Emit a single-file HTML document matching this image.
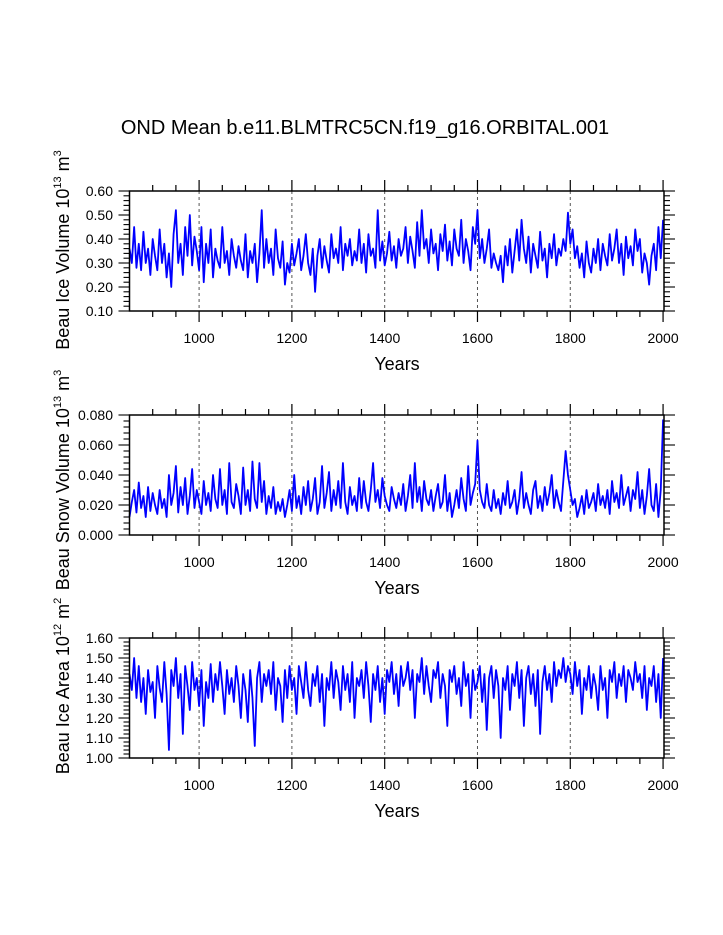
<!DOCTYPE html>
<html><head><meta charset="utf-8"><style>
html,body{margin:0;padding:0;background:#fff;}
svg{display:block;font-family:"Liberation Sans",Arial,sans-serif;}
</style></head><body>
<svg id="chart" width="723" height="935" viewBox="0 0 723 935" xmlns="http://www.w3.org/2000/svg">
<rect width="723" height="935" fill="#fff"/>
<text x="365" y="134" font-size="20" text-anchor="middle">OND Mean b.e11.BLMTRC5CN.f19_g16.ORBITAL.001</text>
</svg>
<script>
const startYear = 850;
const stepYears = 5;
const iceVolume = [
0.36,0.30,0.45,0.28,0.38,0.27,0.43,0.30,0.36,0.25,0.40,0.33,0.27,0.44,0.30,0.38,0.24,0.34,0.20,0.42,
0.52,0.30,0.38,0.25,0.45,0.33,0.50,0.29,0.41,0.35,0.27,0.45,0.22,0.38,0.30,0.44,0.24,0.36,0.31,0.28,
0.45,0.30,0.35,0.25,0.40,0.33,0.28,0.37,0.31,0.27,0.42,0.24,0.35,0.30,0.38,0.22,0.34,0.52,0.28,0.40,
0.30,0.36,0.25,0.44,0.32,0.28,0.39,0.21,0.30,0.26,0.38,0.29,0.34,0.40,0.27,0.33,0.42,0.30,0.25,0.36,
0.18,0.33,0.40,0.28,0.37,0.31,0.26,0.42,0.32,0.36,0.30,0.45,0.27,0.38,0.33,0.40,0.29,0.35,0.31,0.44,
0.30,0.38,0.26,0.42,0.33,0.36,0.28,0.52,0.31,0.39,0.29,0.34,0.43,0.31,0.37,0.28,0.40,0.33,0.36,0.45,
0.30,0.41,0.35,0.28,0.47,0.33,0.52,0.36,0.40,0.30,0.44,0.34,0.38,0.27,0.42,0.35,0.46,0.31,0.39,0.29,
0.44,0.36,0.33,0.48,0.30,0.40,0.35,0.27,0.45,0.38,0.52,0.32,0.40,0.30,0.36,0.44,0.28,0.34,0.30,0.27,
0.33,0.22,0.37,0.29,0.40,0.26,0.35,0.44,0.31,0.48,0.36,0.30,0.41,0.26,0.38,0.33,0.28,0.43,0.31,0.36,
0.24,0.38,0.32,0.42,0.29,0.36,0.33,0.40,0.35,0.51,0.38,0.44,0.32,0.37,0.28,0.34,0.24,0.39,0.30,0.26,
0.36,0.30,0.40,0.27,0.38,0.33,0.29,0.42,0.31,0.36,0.44,0.30,0.38,0.25,0.41,0.32,0.37,0.29,0.44,0.35,
0.40,0.26,0.34,0.30,0.21,0.33,0.38,0.27,0.45,0.32,0.48];
const snowVolume = [
0.012,0.022,0.030,0.015,0.035,0.018,0.026,0.012,0.032,0.016,0.028,0.020,0.014,0.030,0.018,0.024,0.012,0.040,0.020,0.028,
0.046,0.015,0.032,0.020,0.038,0.014,0.026,0.044,0.018,0.030,0.022,0.014,0.036,0.020,0.028,0.016,0.040,0.024,0.018,0.044,
0.020,0.030,0.014,0.048,0.022,0.018,0.034,0.026,0.014,0.045,0.020,0.030,0.016,0.049,0.024,0.018,0.048,0.022,0.036,0.014,
0.026,0.018,0.032,0.014,0.022,0.016,0.024,0.012,0.020,0.030,0.016,0.040,0.018,0.026,0.014,0.032,0.020,0.036,0.016,0.024,
0.038,0.014,0.022,0.046,0.018,0.028,0.042,0.016,0.030,0.020,0.036,0.018,0.048,0.022,0.014,0.032,0.020,0.026,0.016,0.038,
0.018,0.036,0.022,0.016,0.030,0.048,0.022,0.030,0.018,0.038,0.026,0.020,0.016,0.032,0.024,0.018,0.028,0.020,0.034,0.016,
0.026,0.040,0.018,0.048,0.022,0.032,0.016,0.036,0.024,0.020,0.030,0.016,0.026,0.034,0.018,0.022,0.040,0.016,0.028,0.012,
0.020,0.030,0.018,0.038,0.024,0.016,0.046,0.020,0.028,0.034,0.063,0.030,0.022,0.018,0.034,0.020,0.016,0.030,0.018,0.024,
0.014,0.028,0.020,0.036,0.018,0.022,0.030,0.014,0.024,0.042,0.018,0.028,0.020,0.014,0.030,0.036,0.018,0.026,0.016,0.032,
0.020,0.028,0.040,0.018,0.030,0.022,0.016,0.036,0.056,0.040,0.030,0.020,0.024,0.012,0.018,0.026,0.014,0.030,0.018,0.022,
0.028,0.016,0.034,0.020,0.026,0.018,0.030,0.014,0.036,0.022,0.028,0.018,0.040,0.020,0.026,0.032,0.016,0.030,0.024,0.042,
0.018,0.030,0.014,0.026,0.044,0.020,0.016,0.034,0.012,0.030,0.077];
const iceArea = [
1.42,1.34,1.50,1.30,1.46,1.28,1.40,1.22,1.44,1.33,1.38,1.20,1.46,1.35,1.28,1.48,1.32,1.04,1.44,1.36,
1.50,1.30,1.42,1.12,1.46,1.36,1.24,1.48,1.34,1.40,1.26,1.44,1.16,1.38,1.30,1.47,1.28,1.42,1.34,1.48,
1.36,1.22,1.44,1.32,1.40,1.28,1.46,1.36,1.20,1.42,1.34,1.18,1.44,1.30,1.06,1.40,1.48,1.28,1.42,1.36,
1.44,1.32,1.48,1.24,1.40,1.36,1.18,1.44,1.30,1.46,1.34,1.40,1.22,1.46,1.38,1.30,1.48,1.34,1.26,1.42,
1.36,1.46,1.28,1.42,1.16,1.40,1.34,1.48,1.30,1.44,1.38,1.24,1.46,1.34,1.42,1.28,1.48,1.20,1.40,1.36,
1.44,1.30,1.48,1.36,1.18,1.42,1.34,1.46,1.28,1.40,1.22,1.44,1.38,1.48,1.32,1.42,1.26,1.46,1.36,1.40,
1.48,1.34,1.44,1.20,1.42,1.38,1.50,1.32,1.46,1.36,1.28,1.44,1.40,1.48,1.30,1.42,1.36,1.16,1.44,1.38,
1.46,1.32,1.40,1.26,1.48,1.36,1.42,1.20,1.44,1.34,1.38,1.46,1.28,1.42,1.14,1.40,1.46,1.30,1.44,1.36,
1.10,1.40,1.34,1.46,1.24,1.42,1.36,1.48,1.30,1.44,1.16,1.40,1.46,1.32,1.42,1.26,1.44,1.12,1.38,1.46,
1.34,1.42,1.28,1.48,1.36,1.44,1.40,1.50,1.38,1.46,1.42,1.32,1.48,1.36,1.44,1.22,1.40,1.34,1.46,1.30,
1.42,1.36,1.24,1.46,1.34,1.40,1.20,1.44,1.38,1.48,1.30,1.42,1.36,1.46,1.28,1.44,1.40,1.34,1.48,1.38,
1.42,1.30,1.46,1.24,1.40,1.36,1.46,1.28,1.42,1.20,1.50];
const xTickLabels = [1000,1200,1400,1600,1800,2000];
const iceVolTicks = ["0.10","0.20","0.30","0.40","0.50","0.60"];
const snowTicks = ["0.000","0.020","0.040","0.060","0.080"];
const areaTicks = ["1.00","1.10","1.20","1.30","1.40","1.50","1.60"];

const NS = "http://www.w3.org/2000/svg";
const svg = document.getElementById('chart');
function mk(tag, attrs, parent){const e=document.createElementNS(NS,tag);for(const k in attrs)e.setAttribute(k,attrs[k]);(parent||svg).appendChild(e);return e;}
const X0 = 129.5, X1 = 664, YR0 = 850, YR1 = 2002;
function xs(yr){return X0 + (yr-YR0)/(YR1-YR0)*(X1-X0);}

function panel(key, top, bottom, ymin, ymax, minorStep, ticks, values, titleMain, exp, unitExp, titleCy){
  const g = mk('g',{});
  
  
  const ys = v => bottom - (v-ymin)/(ymax-ymin)*(bottom-top);
  for (const yr of [1000,1200,1400,1600,1800]) {
    const l = mk('line',{x1:xs(yr),x2:xs(yr),y1:top,y2:bottom,stroke:'#555','stroke-width':1,'stroke-dasharray':'3,3'},g);
    
    
  }
  let d='';
  values.forEach((v,i)=>{d+=(i?'L':'M')+xs(startYear+i*stepYears).toFixed(2)+','+ys(v).toFixed(2);});
  const p = mk('path',{d:d,fill:'none',stroke:'#0000ff','stroke-width':1.8,'stroke-linejoin':'round'},g);
  
  
  const fr = mk('rect',{x:X0,y:top,width:X1-X0,height:bottom-top,fill:'none',stroke:'#000','stroke-width':1.5},g);
  
  
  for (let yr=900; yr<=2000; yr+=50){
    const major = yr%200===0;
    const L = major?11:6;
    mk('line',{x1:xs(yr),x2:xs(yr),y1:bottom,y2:bottom+L,stroke:'#000','stroke-width':1.2},g);
    mk('line',{x1:xs(yr),x2:xs(yr),y1:top,y2:top-L,stroke:'#000','stroke-width':1.2},g);
  }
  xTickLabels.forEach(yr=>{
    const t = mk('text',{x:xs(yr),y:bottom+32,'font-size':14,'text-anchor':'middle'},g);
    t.textContent = yr;
    
    
  });
  const n = Math.round((ymax-ymin)/minorStep);
  const majorEvery = Math.round((ymax-ymin)/(ticks.length-1)/minorStep);
  for (let i=0;i<=n;i++){
    const y = ys(ymin+i*minorStep);
    const L = i%majorEvery===0?11:6;
    mk('line',{x1:X0,x2:X0-L,y1:y,y2:y,stroke:'#000','stroke-width':1.1},g);
    mk('line',{x1:X1,x2:X1+L,y1:y,y2:y,stroke:'#000','stroke-width':1.1},g);
  }
  ticks.forEach((lab,i)=>{
    const t = mk('text',{x:113,y:ys(parseFloat(lab))+5,'font-size':14,'text-anchor':'end'},g);
    t.textContent = lab;
    
    
  });
  const xt = mk('text',{x:397,y:bottom+59,'font-size':18,'text-anchor':'middle'},g);
  xt.textContent = 'Years';
  
  
  const yt = mk('text',{x:0,y:0,'font-size':18,'text-anchor':'middle',transform:'translate(69,'+titleCy+') rotate(-90)'},g);
  
  
  const a = mk('tspan',{},yt); a.textContent = titleMain+' 10';
  const b = mk('tspan',{'font-size':11,dy:-8}); yt.appendChild(b); b.textContent = exp;
  const c = mk('tspan',{dy:8}); yt.appendChild(c); c.textContent = ' m';
  const d2 = mk('tspan',{'font-size':11,dy:-8}); yt.appendChild(d2); d2.textContent = unitExp;
}
panel('ice-volume',191,311,0.1,0.6,0.02,iceVolTicks,iceVolume,'Beau Ice Volume','13','3',250);
panel('snow-volume',415,535,0,0.08,0.004,snowTicks,snowVolume,'Beau Snow Volume','13','3',480);
panel('ice-area',638,758,1.0,1.6,0.02,areaTicks,iceArea,'Beau Ice Area','12','2',686);
</script>
</body></html>
